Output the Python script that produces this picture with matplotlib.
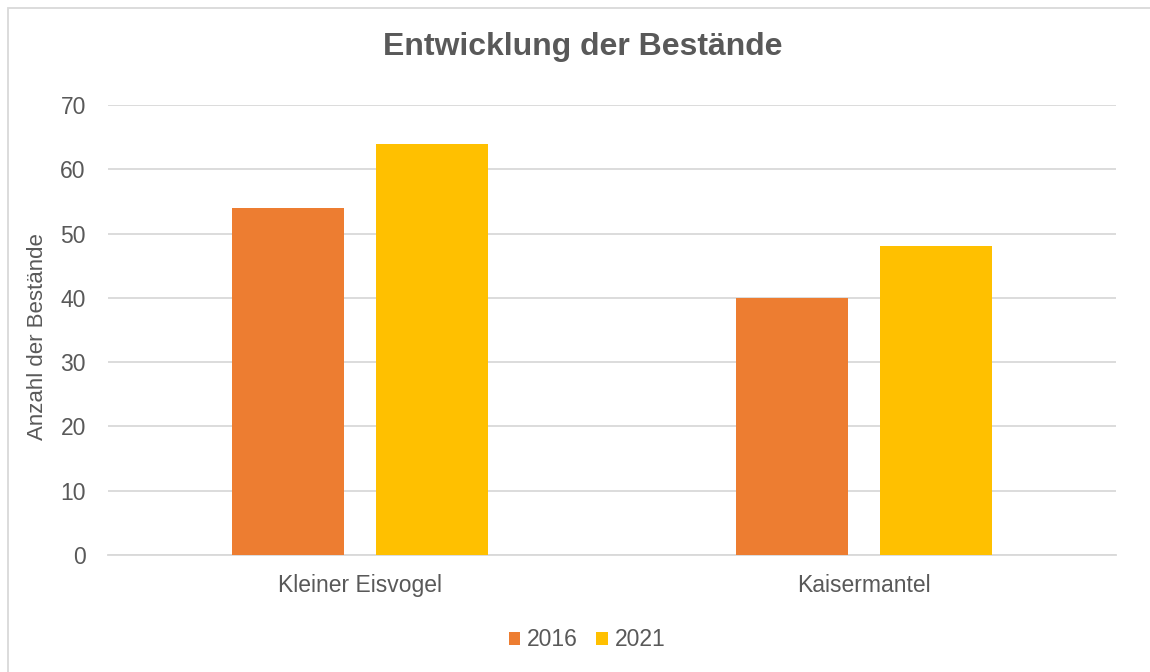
import matplotlib
matplotlib.use("Agg")
import matplotlib.pyplot as plt
import numpy as np
from matplotlib.patches import Rectangle

categories = ["Kleiner Eisvogel", "Kaisermantel"]
series_names = ["2016", "2021"]
values_2016 = [54, 40]
values_2021 = [64, 48]
yticks = [0, 10, 20, 30, 40, 50, 60, 70]

colors = ["#ED7D31", "#FFC000"]
text_color = "#595959"

plt.rcParams['font.family'] = ['Liberation Sans', 'DejaVu Sans']

fig = plt.figure(figsize=(11.5, 6.72), dpi=100)
W, H = 1150, 672
ax = fig.add_axes([108 / W, 1 - 555 / H, (1116 - 108) / W, (555 - 105) / H])

x = np.arange(len(categories))
width = 0.222
offset = 0.1429
ax.bar(x - offset, values_2016, width, color=colors[0], label=series_names[0], zorder=3)
ax.bar(x + offset, values_2021, width, color=colors[1], label=series_names[1], zorder=3)

ax.set_xlim(-0.5, len(categories) - 0.5)
ax.set_ylim(0, 70)
ax.set_yticks(yticks)
ax.set_xticks(x)
ax.set_xticklabels(categories)
ax.yaxis.grid(True, color="#D9D9D9", linewidth=1.3, zorder=0)
ax.set_axisbelow(True)
for s in ["top", "right", "left"]:
    ax.spines[s].set_visible(False)
ax.spines["bottom"].set_color("#D9D9D9")
ax.spines["bottom"].set_linewidth(1.3)
ax.tick_params(axis="both", length=0, labelsize=16.5, colors=text_color)
ax.tick_params(axis="y", pad=16)
ax.tick_params(axis="x", pad=14)

ax.set_ylabel("Anzahl der Bestände", fontsize=16, color=text_color)
ax.yaxis.set_label_coords(-(108 - 48) / 1008, (555 - 337) / 450)

fig.text(583 / W, 1 - 47 / H, "Entwicklung der Bestände", ha="center", va="center",
         fontsize=23, fontweight="bold", color=text_color)

leg = fig.legend(loc="center", bbox_to_anchor=(587 / W, 1 - 640 / H), ncol=2, frameon=False,
                 fontsize=16.5, handlelength=0.5, handleheight=0.5, handletextpad=0.3,
                 columnspacing=0.8, labelcolor=text_color)

fig.patches.append(Rectangle((7.5 / W, -0.1), 1.2, (1 - 7.5 / H) + 0.1, transform=fig.transFigure,
                             fill=False, edgecolor="#D9D9D9", linewidth=1.3))

fig.savefig("out.png", dpi=100)
